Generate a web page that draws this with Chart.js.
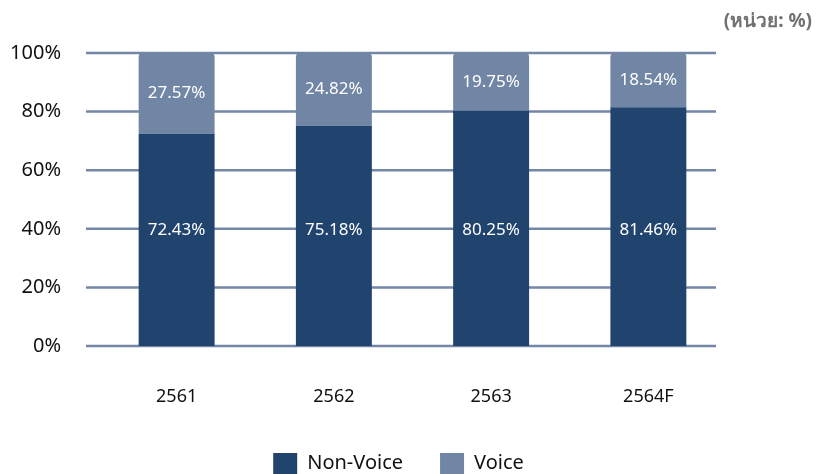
<!DOCTYPE html>
<html>
<head>
<meta charset="utf-8">
<script src="https://cdn.jsdelivr.net/npm/chart.js@4/dist/chart.umd.min.js"></script>
<style>
html,body{margin:0;padding:0;background:#fff;}
#wrap{width:818px;height:474px;position:relative;}
</style>
</head>
<body>
<div id="wrap"><canvas id="c" width="818" height="474"></canvas></div>
<script>
const categories = ['2561', '2562', '2563', '2564F'];
const nonVoice = [72.43, 75.18, 80.25, 81.46];
const voice = [27.57, 24.82, 19.75, 18.54];
const yTicks = [0, 20, 40, 60, 80, 100];
const unitLabel = '(หน่วย: %)';

const FONT = "'Noto Sans', 'DejaVu Sans', sans-serif";
const DARK = '#21446f';
const LIGHT = '#7185a5';
const GRID = '#7587a6';

const gridPlugin = {
  id: 'gridLines',
  beforeDatasetsDraw(chart) {
    const ctx = chart.ctx, y = chart.scales.y;
    ctx.save();
    ctx.strokeStyle = GRID;
    ctx.lineWidth = 2.5;
    yTicks.forEach(v => {
      const py = y.getPixelForValue(v);
      ctx.beginPath();
      ctx.moveTo(86, py);
      ctx.lineTo(716, py);
      ctx.stroke();
    });
    ctx.restore();
  }
};

const legendShift = {
  id: 'legendShift',
  afterLayout(chart) {
    if (chart.legend) {
      chart.legend.left += 35;
      chart.legend.right += 35;
    }
  }
};

const labelPlugin = {
  id: 'barLabels',
  afterDatasetsDraw(chart) {
    const ctx = chart.ctx, y = chart.scales.y;
    ctx.save();
    ctx.fillStyle = '#ffffff';
    ctx.font = '17px ' + FONT;
    ctx.textAlign = 'center';
    ctx.textBaseline = 'middle';
    chart.data.datasets.forEach((ds, di) => {
      const meta = chart.getDatasetMeta(di);
      meta.data.forEach((el, i) => {
        const v = ds.data[i];
        let py;
        if (di === 0) py = y.getPixelForValue(39.5);
        else py = (el.y + el.base) / 2;
        ctx.fillText(v.toFixed(2) + '%', el.x, py);
      });
    });
    ctx.restore();
  },
  afterDraw(chart) {
    const ctx = chart.ctx;
    ctx.save();
    ctx.fillStyle = '#707070';
    ctx.font = 'bold 19px ' + FONT;
    ctx.textAlign = 'right';
    ctx.textBaseline = 'middle';
    ctx.fillText(unitLabel, 812, 22);
    ctx.restore();
  }
};

new Chart(document.getElementById('c'), {
  type: 'bar',
  data: {
    labels: categories,
    datasets: [
      { label: 'Non-Voice', data: nonVoice, backgroundColor: DARK, borderSkipped: false, borderRadius: 0,
        barPercentage: 0.483, categoryPercentage: 1 },
      { label: 'Voice', data: voice, backgroundColor: LIGHT,
        borderRadius: {topLeft: 4, topRight: 4, bottomLeft: 0, bottomRight: 0}, borderSkipped: false,
        barPercentage: 0.483, categoryPercentage: 1 }
    ]
  },
  plugins: [gridPlugin, labelPlugin, legendShift],
  options: {
    responsive: false,
    animation: false,
    layout: { padding: { top: 53, right: 91, left: 0, bottom: -10 } },
    plugins: {
      legend: {
        position: 'bottom',
        labels: {
          boxWidth: 24, boxHeight: 21, padding: 37,
          color: '#111', font: { family: FONT, size: 20 }
        }
      },
      tooltip: { enabled: false },
      title: { display: false }
    },
    scales: {
      x: {
        stacked: true,
        grid: { display: false },
        border: { display: false },
        ticks: { color: '#111', font: { family: FONT, size: 18 }, padding: 32 },
        afterFit(s) { s.height = 70; }
      },
      y: {
        stacked: true,
        min: 0, max: 100,
        afterBuildTicks(s) { s.ticks = yTicks.map(v => ({ value: v })); },
        grid: { display: false },
        border: { display: false },
        ticks: { color: '#111', font: { family: FONT, size: 20 }, padding: 29,
          callback: v => v + '%' },
        afterFit(s) { s.width = 98; }
      }
    }
  }
});
</script>
</body>
</html>
